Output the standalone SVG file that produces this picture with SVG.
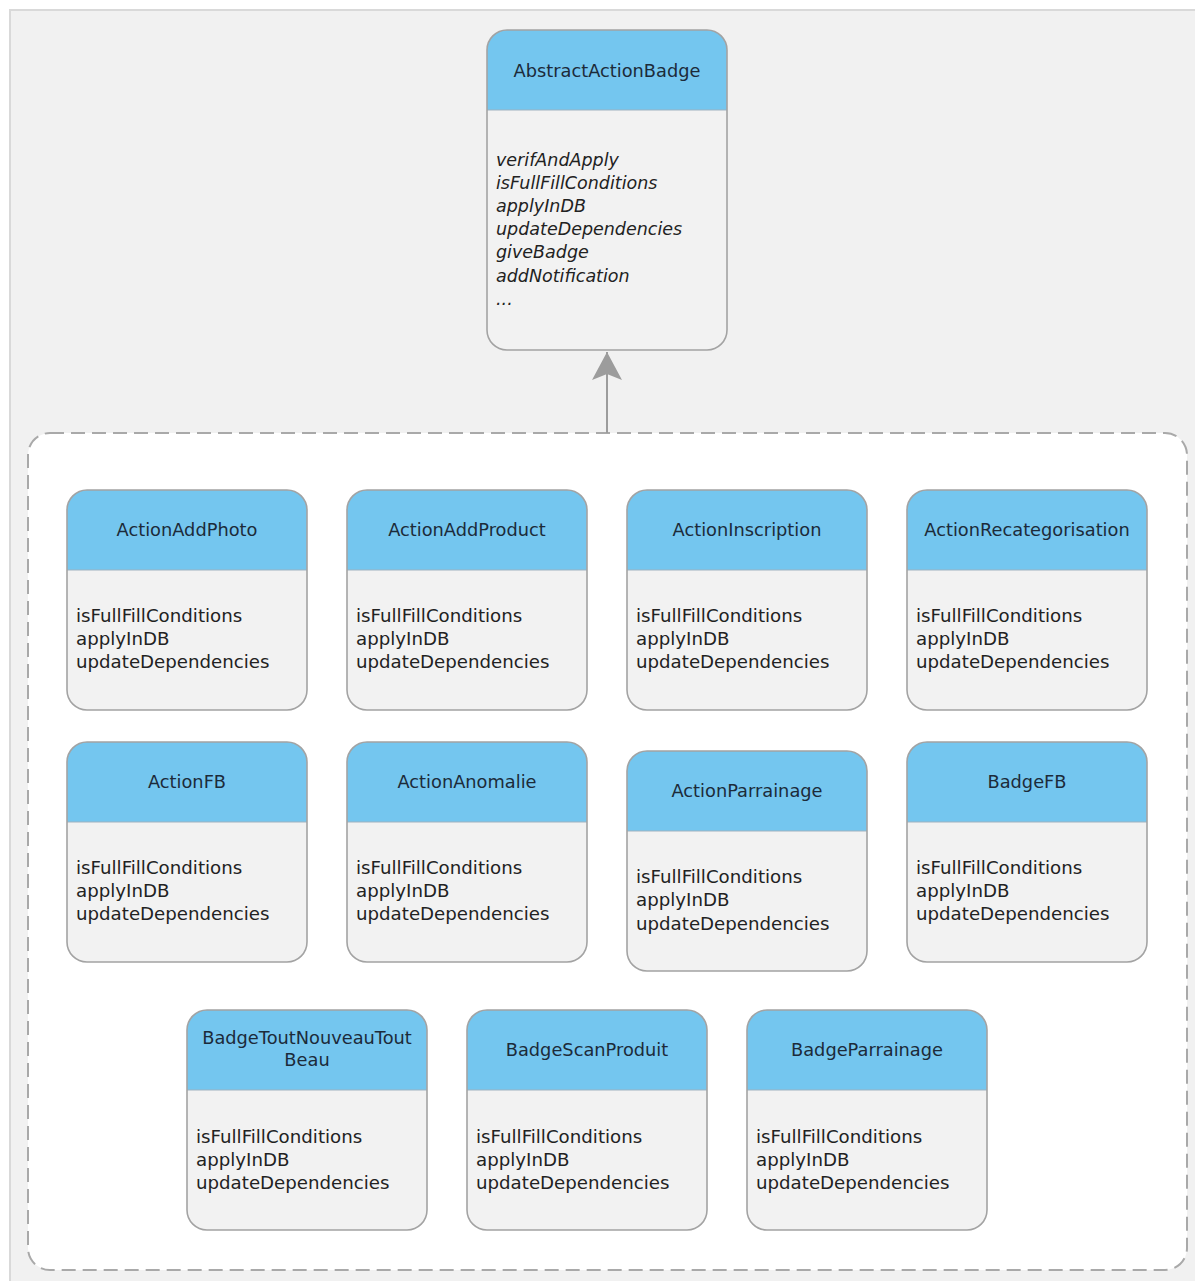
<svg xmlns="http://www.w3.org/2000/svg" width="1195" height="1281" viewBox="0 0 1195 1281">
  <style>
    .frame { fill: #f1f1f1; stroke: #d9d9d9; stroke-width: 2; }
    .pkg { fill: #ffffff; stroke: #a9a9a9; stroke-width: 2; stroke-dasharray: 14 7; }
    .body { fill: #f2f2f2; }
    .head { fill: #74c6ef; }
    .sep { stroke: #9fb2bf; stroke-width: 1; }
    .outline { fill: none; stroke: #a3a3a3; stroke-width: 1.6; }
    .title { font-family: "DejaVu Sans", "Liberation Sans", sans-serif; font-size: 17.8px; fill: #1c2b3a; text-anchor: middle; }
    .m { font-family: "DejaVu Sans", "Liberation Sans", sans-serif; font-size: 18.2px; fill: #222222; }
    .abs { font-style: italic; font-size: 17.5px; }
    .link { stroke: #9c9c9c; stroke-width: 2; fill: none; }
  </style>
  <defs>
    <!-- standard class card: header + body -->
    <g id="card">
      <rect class="body" x="0" y="0" width="240" height="220" rx="20"/>
      <path class="head" d="M0,80 V20 A20,20 0 0 1 20,0 H220 A20,20 0 0 1 240,20 V80 Z"/>
      <line class="sep" x1="0" y1="80" x2="240" y2="80"/>
      <rect class="outline" x="0" y="0" width="240" height="220" rx="20"/>
    </g>
    <!-- generalisation arrowhead, pointing along +x -->
    <marker id="inherit" markerWidth="32" markerHeight="32" refX="30" refY="16" orient="auto" markerUnits="userSpaceOnUse" viewBox="0 0 32 32">
      <path d="M30,16 L2,1 L8,16 L2,31 Z" fill="#9c9c9c"/>
    </marker>
  </defs>

  <rect class="frame" x="10" y="10" width="1190" height="1280"/>

  <!-- package holding the concrete actions and badges -->
  <rect class="pkg" x="28" y="433" width="1159" height="837" rx="22"/>

  <!-- inheritance connector -->
  <g id="connectors">
    <path class="link" d="M607,433 V352" marker-end="url(#inherit)"/>
  </g>

  <g id="AbstractActionBadge" transform="translate(487,30)">
    <rect class="body" x="0" y="0" width="240" height="320" rx="20"/>
    <path class="head" d="M0,80 V20 A20,20 0 0 1 20,0 H220 A20,20 0 0 1 240,20 V80 Z"/>
    <line class="sep" x1="0" y1="80" x2="240" y2="80"/>
    <rect class="outline" x="0" y="0" width="240" height="320" rx="20"/>
    <text class="title" x="120" y="47">AbstractActionBadge</text>
    <text class="m abs" x="9" y="136">verifAndApply</text>
    <text class="m abs" x="9" y="159">isFullFillConditions</text>
    <text class="m abs" x="9" y="182">applyInDB</text>
    <text class="m abs" x="9" y="205">updateDependencies</text>
    <text class="m abs" x="9" y="228">giveBadge</text>
    <text class="m abs" x="9" y="252">addNotification</text>
    <text class="m abs" x="9" y="275">...</text>
  </g>

  <g id="ActionAddPhoto" transform="translate(67,490)">
    <use href="#card"/>
    <text class="title" x="120" y="46">ActionAddPhoto</text>
    <text class="m" x="9" y="132">isFullFillConditions</text>
    <text class="m" x="9" y="155">applyInDB</text>
    <text class="m" x="9" y="178">updateDependencies</text>
  </g>

  <g id="ActionAddProduct" transform="translate(347,490)">
    <use href="#card"/>
    <text class="title" x="120" y="46">ActionAddProduct</text>
    <text class="m" x="9" y="132">isFullFillConditions</text>
    <text class="m" x="9" y="155">applyInDB</text>
    <text class="m" x="9" y="178">updateDependencies</text>
  </g>

  <g id="ActionInscription" transform="translate(627,490)">
    <use href="#card"/>
    <text class="title" x="120" y="46">ActionInscription</text>
    <text class="m" x="9" y="132">isFullFillConditions</text>
    <text class="m" x="9" y="155">applyInDB</text>
    <text class="m" x="9" y="178">updateDependencies</text>
  </g>

  <g id="ActionRecategorisation" transform="translate(907,490)">
    <use href="#card"/>
    <text class="title" x="120" y="46">ActionRecategorisation</text>
    <text class="m" x="9" y="132">isFullFillConditions</text>
    <text class="m" x="9" y="155">applyInDB</text>
    <text class="m" x="9" y="178">updateDependencies</text>
  </g>

  <g id="ActionFB" transform="translate(67,742)">
    <use href="#card"/>
    <text class="title" x="120" y="46">ActionFB</text>
    <text class="m" x="9" y="132">isFullFillConditions</text>
    <text class="m" x="9" y="155">applyInDB</text>
    <text class="m" x="9" y="178">updateDependencies</text>
  </g>

  <g id="ActionAnomalie" transform="translate(347,742)">
    <use href="#card"/>
    <text class="title" x="120" y="46">ActionAnomalie</text>
    <text class="m" x="9" y="132">isFullFillConditions</text>
    <text class="m" x="9" y="155">applyInDB</text>
    <text class="m" x="9" y="178">updateDependencies</text>
  </g>

  <g id="ActionParrainage" transform="translate(627,751)">
    <use href="#card"/>
    <text class="title" x="120" y="46">ActionParrainage</text>
    <text class="m" x="9" y="132">isFullFillConditions</text>
    <text class="m" x="9" y="155">applyInDB</text>
    <text class="m" x="9" y="179">updateDependencies</text>
  </g>

  <g id="BadgeFB" transform="translate(907,742)">
    <use href="#card"/>
    <text class="title" x="120" y="46">BadgeFB</text>
    <text class="m" x="9" y="132">isFullFillConditions</text>
    <text class="m" x="9" y="155">applyInDB</text>
    <text class="m" x="9" y="178">updateDependencies</text>
  </g>

  <g id="BadgeToutNouveauToutBeau" transform="translate(187,1010)">
    <use href="#card"/>
    <text class="title" x="120" y="34">BadgeToutNouveauTout</text>
    <text class="title" x="120" y="56">Beau</text>
    <text class="m" x="9" y="133">isFullFillConditions</text>
    <text class="m" x="9" y="156">applyInDB</text>
    <text class="m" x="9" y="179">updateDependencies</text>
  </g>

  <g id="BadgeScanProduit" transform="translate(467,1010)">
    <use href="#card"/>
    <text class="title" x="120" y="46">BadgeScanProduit</text>
    <text class="m" x="9" y="133">isFullFillConditions</text>
    <text class="m" x="9" y="156">applyInDB</text>
    <text class="m" x="9" y="179">updateDependencies</text>
  </g>

  <g id="BadgeParrainage" transform="translate(747,1010)">
    <use href="#card"/>
    <text class="title" x="120" y="46">BadgeParrainage</text>
    <text class="m" x="9" y="133">isFullFillConditions</text>
    <text class="m" x="9" y="156">applyInDB</text>
    <text class="m" x="9" y="179">updateDependencies</text>
  </g>
</svg>
